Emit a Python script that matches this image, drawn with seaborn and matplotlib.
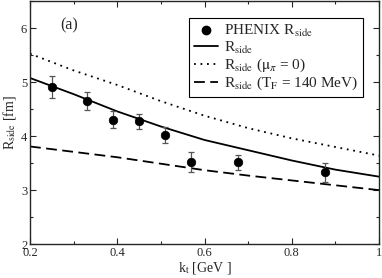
import numpy as np
import pandas as pd
import seaborn as sns
import matplotlib.pyplot as plt
from matplotlib.lines import Line2D
from matplotlib.ticker import MultipleLocator

# data
kt_data = [0.25, 0.331, 0.39, 0.45, 0.51, 0.57, 0.676, 0.876]
rside_data = [4.91, 4.65, 4.31, 4.28, 4.02, 3.52, 3.52, 3.33]
rside_err = [0.20, 0.17, 0.16, 0.14, 0.15, 0.18, 0.14, 0.18]

kt_curve = [0.2, 0.3, 0.4, 0.5, 0.6, 0.7, 0.8, 0.9, 1.0]
rside_full = [5.08, 4.78, 4.46, 4.18, 3.93, 3.74, 3.55, 3.38, 3.25]
rside_mu0 = [5.53, 5.22, 4.95, 4.65, 4.38, 4.15, 3.96, 3.80, 3.64]
rside_tf140 = [3.81, 3.71, 3.61, 3.49, 3.37, 3.27, 3.18, 3.09, 3.00]

sns.set_style("ticks")
plt.rcParams['font.family'] = ['Liberation Serif', 'DejaVu Serif']
plt.rcParams['mathtext.fontset'] = 'stix'

fig = plt.figure(figsize=(3.82, 2.78), dpi=100)
ax = fig.add_axes([0.0785, 0.122, 0.914, 0.873])

curves = pd.DataFrame({"kt": kt_curve, "full": rside_full,
                       "mu0": rside_mu0, "tf": rside_tf140})

sns.lineplot(data=curves, x="kt", y="full", ax=ax, color="black", lw=1.3)
sns.lineplot(data=curves, x="kt", y="mu0", ax=ax, color="black", lw=1.3,
             linestyle=(0, (1, 2.6)))
sns.lineplot(data=curves, x="kt", y="tf", ax=ax, color="black", lw=1.3,
             linestyle=(0, (6, 3)))

ax.errorbar(kt_data, rside_data, yerr=rside_err, fmt="none",
            ecolor="#555555", elinewidth=0.9, capsize=2.5, capthick=0.9)
sns.scatterplot(x=kt_data, y=rside_data, ax=ax, color="black", s=38,
                edgecolor="black", zorder=5)

ax.set_xlim(0.2, 1.0)
ax.set_ylim(2, 6.5)
ax.xaxis.set_minor_locator(MultipleLocator(0.1))
ax.yaxis.set_major_locator(MultipleLocator(1))
ax.yaxis.set_minor_locator(MultipleLocator(0.5))
ax.set_xticks([0.2, 0.4, 0.6, 0.8, 1.0])
ax.set_xticklabels(["0.2", "0.4", "0.6", "0.8", "1"])
ax.tick_params(which="both", direction="in", top=True, right=True,
               labelsize=9, pad=2)
ax.tick_params(which="major", length=4.5, width=0.8)
ax.tick_params(which="minor", length=2.5, width=0.8)
for s in ax.spines.values():
    s.set_linewidth(1.0)

ax.set_xlabel(r"k$_{\rm t}$ [GeV ]", fontsize=10, labelpad=1)
ax.set_ylabel(r"R$_{\rm side}$ [fm]", fontsize=10, labelpad=2)

ax.text(0.111, 0.90, "(a)", transform=ax.transAxes, fontsize=11.5,
        ha="center", va="center")

handles = [
    Line2D([], [], marker="o", color="black", linestyle="none", markersize=6),
    Line2D([], [], color="black", lw=1.3),
    Line2D([], [], color="black", lw=1.3, linestyle=(0, (1, 2.6))),
    Line2D([], [], color="black", lw=1.3, linestyle=(0, (6, 3))),
]
labels = [
    r"PHENIX R$_{\rm side}$",
    r"R$_{\rm side}$",
    r"R$_{\rm side}$ ($\mathrm{\mu}_\pi$ = 0)",
    r"R$_{\rm side}$ (T$_{\rm F}$ = 140 MeV)",
]
leg = ax.legend(handles, labels, loc="upper right",
                bbox_to_anchor=(0.954, 0.93), fontsize=11, frameon=True,
                fancybox=False, edgecolor="black", framealpha=1,
                handlelength=1.6, handletextpad=0.4, borderpad=0.3,
                labelspacing=0.05, borderaxespad=0)
leg.get_frame().set_linewidth(0.8)

fig.savefig("out.png", dpi=100)
